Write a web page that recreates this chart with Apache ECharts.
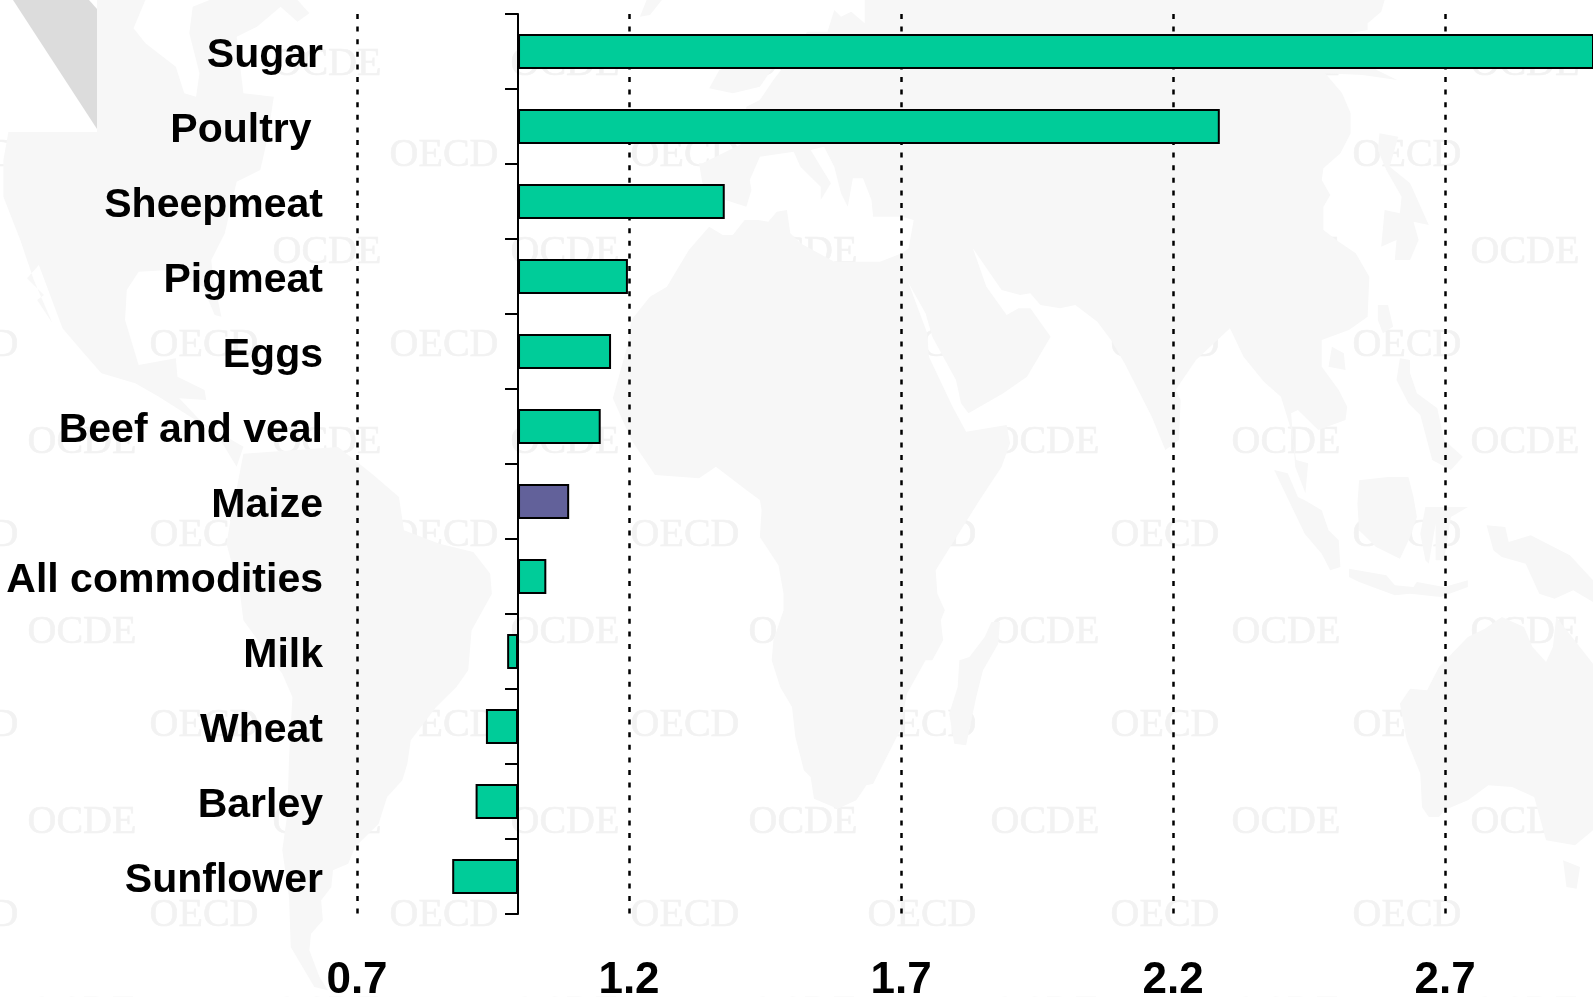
<!DOCTYPE html>
<html><head><meta charset="utf-8">
<style>html,body{margin:0;padding:0;background:#fff;overflow:hidden}#c{width:1593px;height:997px}</style>
<script src="https://cdn.jsdelivr.net/npm/echarts@6/dist/echarts.min.js"></script>
</head><body><div id="c"></div>
<script>
const categories = ['Sugar','Poultry ','Sheepmeat','Pigmeat','Eggs','Beef and veal','Maize','All commodities','Milk','Wheat','Barley','Sunflower'];
const ratios = [3.05,2.286,1.376,1.198,1.167,1.148,1.09,1.048,0.976,0.937,0.918,0.875];
const barKinds = ['g','g','g','g','g','g','m','g','g','g','g','g'];
const AXIS_CROSS = 0.996, AXIS_MIN = 0.7, AXIS_MAX = 2.972, TICK_STEP = 0.5;
const GREEN = '#00cc99', PURPLE = '#62619a', LAND = '#f7f7f7', MARK = '#f2f2f2';

const oecdRows=[155,345,535,725,915], oecdCols=[-36,204,444,685,922,1165,1407];
const ocdeRows=[64,252,442,632,822,1012], ocdeCols=[82,327,565,803,1045,1286,1525];

// background map outlines, in crop units (col/row of a 530x500 crop grid)
const land = [
 // North America
 [0,0,[25,395,287,395,287,0,430,0,395,85,430,130,520,200,545,280,580,290,590,220,560,100,570,20,620,0,880,0,915,40,880,65,830,20,760,80,700,110,720,280,810,290,790,420,770,510,700,545,665,700,625,780,630,830,655,950,635,945,600,860,500,810,410,815,375,870,370,960,410,1095,520,1075,525,1130,605,1170,610,1200,530,1195,600,1270,720,1340,700,1400,640,1300,470,1190,400,1150,300,1120,240,1050,185,985,115,795,80,835,130,885,110,900,155,970,100,840,60,720,10,590,10,480]],
 // South America
 [0,1,[720,-130,1000,-150,1100,-70,1180,0,1195,100,1300,140,1400,165,1450,230,1455,290,1395,400,1385,520,1350,570,1290,630,1215,730,1205,800,1190,850,1145,900,1120,980,1050,1050,1030,1100,985,1120,980,1170,950,1210,955,1270,920,1310,915,1360,945,1440,970,1480,930,1470,860,1350,855,1200,835,1060,850,950,855,780,865,600,835,530,720,370,710,290,670,140,680,80]],
 // Africa
 [1,0,[530,680,570,705,600,705,635,660,675,660,705,665,730,635,760,630,770,700,800,730,900,785,1035,785,1100,760,1120,745,1135,760,1120,850,1175,1000,1180,1070,1250,1220,1290,1295,1410,1275,1420,1330,1395,1400,1330,1500,1200,1711,1205,1781,1227,1831,1215,1861,1222,1921,1190,1981,1170,1981,1115,2081,1095,2191,1030,2321,1015,2351,995,2356,965,2401,910,2426,840,2396,830,2331,810,2311,785,2211,775,2121,740,2061,715,1981,720,1921,750,1831,750,1781,735,1696,680,1611,685,1531,680,1500,640,1470,550,1400,500,1435,370,1425,300,1320,245,1195,290,1030,300,960,355,890,405,860,470,750]],
 // Madagascar
 [1,1,[1390,375,1365,375,1345,420,1300,480,1270,490,1265,570,1240,650,1255,740,1290,745,1320,600,1340,520,1385,440]],
 // Eurasia
 [1,0,[500,490,510,550,578,600,640,620,655,570,650,540,680,470,780,455,800,500,860,560,860,600,890,550,830,450,870,440,900,500,920,580,940,620,955,535,985,535,1010,600,1015,650,1100,650,1135,660,1120,745,1120,850,1170,940,1190,1010,1260,1140,1275,1210,1297,1240,1400,1180,1470,1130,1540,1010,1480,925,1445,925,1410,945,1350,860,1310,745,1395,870,1450,885,1480,880,1510,915,1568,925,
  1613,915,1678,965,1718,1020,1758,1090,1838,1250,1878,1350,1918,1320,1923,1200,1908,1170,1968,1080,2068,985,2108,1070,2168,1145,2218,1190,2248,1290,2263,1380,2298,1390,2290,1480,2260,1400,2248,1240,2268,1230,2328,1290,2408,1260,2413,1220,2388,1170,2338,1100,2338,1020,2418,990,2473,950,2478,830,2438,760,2388,725,2343,690,2343,620,2363,585,2338,540,2343,505,2393,460,2423,400,2423,340,2398,280,2348,220,2458,225,2560,240,2500,210,2420,100,2473,90,2473,70,2513,35,2523,0,
  990,0,990,70,950,35,920,50,900,30,880,95,820,95,750,200,720,240,680,300,640,320,630,430,510,490]],
 // Britain, Iceland
 [1,0,[530,265,560,210,620,190,720,200,680,260,600,280]],
 [1,0,[325,50,355,45,390,0,345,0]],
 // Japan
 [2,0,[940,400,995,410,970,500,1030,550,1085,675,1040,665,1055,720,1030,780,985,780,990,720,945,740,955,630,1000,640,1005,590,960,510,935,450]],
 // Taiwan, Hainan
 [2,0,[935,915,965,915,980,980,950,1000,935,960]],
 [2,0,[800,1040,835,1060,840,1110,790,1100]],
 // Philippines
 [2,0,[1000,1075,1030,1080,1030,1120,1050,1180,1110,1225,1130,1320,1185,1370,1150,1410,1095,1380,1060,1245,1025,1210,990,1140]],
 // Sumatra
 [2,0,[630,1410,670,1420,700,1491,720,1501,770,1531,790,1591,820,1621,825,1701,795,1711,770,1661,720,1601]],
 // Borneo
 [2,1,[880,-50,965,-60,1025,-60,1040,0,1050,60,1030,120,1000,185,930,150,880,100,875,20]],
 // Sulawesi
 [2,1,[1075,30,1200,30,1150,60,1130,190,1105,190,1105,80,1085,200,1075,190,1060,110]],
 // Java
 [2,1,[850,215,960,235,985,265,1040,270,1050,255,1130,270,1200,250,1200,270,1120,300,1030,290,985,295,880,255,850,240]],
 // New Guinea
 [2,1,[1255,85,1310,90,1320,135,1385,115,1500,175,1568,250,1568,315,1510,280,1455,305,1410,290,1370,200,1300,180,1275,160]],
 // Australia
 [2,1,[1000,620,1030,575,1080,580,1115,510,1200,420,1250,395,1300,360,1365,390,1390,450,1430,495,1450,450,1460,360,1568,500,1568,1000,1515,1045,1430,1030,1395,900,1330,870,1260,865,1200,910,1130,940,1115,960,1085,960,1065,930,1060,830,1020,730]],
 // Tasmania
 [2,1,[1480,1090,1530,1110,1520,1175,1490,1170]]
];

const graphics = [];
function stamp(word, rows, cols){
  rows.forEach(y=>cols.forEach(x=>graphics.push({type:'text',silent:true,z:-30,x,y,
    style:{text:word,font:'40px "Liberation Serif"',fill:MARK,stroke:MARK,lineWidth:0.6,align:'center',verticalAlign:'middle'}})));
}
stamp('OECD',oecdRows,oecdCols);
stamp('OCDE',ocdeRows,ocdeCols);
land.forEach(([c,r,pts])=>{
  const points=[];
  for(let i=0;i<pts.length;i+=2){
    const ox=[0,530,1060][c], oy=[0,497][r], sx=c===2?2.942:2.958;
    // coordinates beyond a crop edge continue at the same scale
    const px = (c===1 && pts[i]>1568) ? 1060+(pts[i]-1568)/2.942 : ox+pts[i]/sx;
    points.push([px, oy+pts[i+1]/3]);
  }
  graphics.push({type:'polygon',silent:true,z:-20,shape:{points},style:{fill:LAND}});
});
graphics.push({type:'rect',silent:true,z:-10,shape:{x:0,y:0,width:97,height:132},style:{fill:'#fff'}});
graphics.push({type:'polygon',silent:true,z:-9,shape:{points:[[13,0],[89,0],[97,9],[97,129]]},style:{fill:'#dcdcdc'}});

const chart = echarts.init(document.getElementById('c'),null,{renderer:'canvas'});
chart.setOption({
  animation:false,
  backgroundColor:'#ffffff',
  graphic:{elements:graphics},
  grid:{left:357,right:0,top:14,height:900,containLabel:false,outerBoundsMode:'none'},
  xAxis:{type:'value',min:AXIS_MIN-AXIS_CROSS,max:AXIS_MAX-AXIS_CROSS,interval:TICK_STEP,
    axisLine:{show:false},axisTick:{show:false},
    splitLine:{show:true,showMinLine:true,showMaxLine:false,lineStyle:{color:'#000',width:2.5,type:[5,7.6]}},
    axisLabel:{show:true,showMaxLabel:false,showMinLabel:true,margin:45,fontFamily:'Liberation Sans',fontWeight:'bold',fontSize:44,color:'#000',
      formatter:v=>(v+AXIS_CROSS).toFixed(1)}},
  yAxis:{type:'category',inverse:true,data:categories,
    axisLine:{show:true,onZero:true,lineStyle:{color:'#000',width:2}},
    axisTick:{show:true,length:13,alignWithLabel:false,lineStyle:{color:'#000',width:2}},
    axisLabel:{show:true,interval:0,margin:34,verticalAlign:'top',lineHeight:8,fontFamily:'Liberation Sans',fontWeight:'bold',fontSize:41,color:'#000'}},
  series:[{type:'bar',barWidth:35,clip:true,z:3,
    data:ratios.map((v,i)=>({value:v-AXIS_CROSS,itemStyle:{color:barKinds[i]==='m'?PURPLE:GREEN,borderColor:'#000',borderWidth:2}}))}]
});
</script></body></html>
